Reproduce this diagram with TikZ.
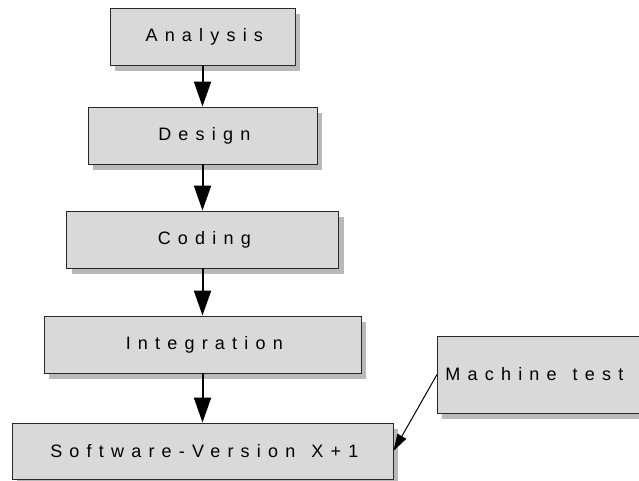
\documentclass[tikz,border=0pt]{standalone}
\usepackage{fontspec}
\setmainfont{Liberation Sans}[LetterSpace=40]
\usetikzlibrary{arrows.meta,shadows}
\definecolor{boxfill}{RGB}{217,217,217}
\definecolor{shadowgray}{RGB}{185,185,185}
\definecolor{edge}{RGB}{40,40,40}
\begin{document}
\begin{tikzpicture}[x=1pt,y=-1pt,
  box/.style={draw=edge, line width=0.9pt, fill=boxfill, rectangle, inner sep=0pt,
    font=\fontsize{18}{21}\selectfont,
    drop shadow={shadow xshift=5pt, shadow yshift=-6pt, fill=shadowgray, opacity=1}},
  flow/.style={line width=2pt, -{Triangle[width=17pt,length=25pt]}},
  thin/.style={line width=1pt, -{Triangle[width=10pt,length=17pt]}}]
\clip (0,0) rectangle (639,481);
\fill[white] (0,0) rectangle (639,481);
\node[box, minimum width=185pt, minimum height=57pt] (A) at (202.5,36.5) {\hspace*{3.6pt}Analysis};
\node[box, minimum width=229pt, minimum height=57pt] (D) at (202.5,135.5) {\hspace*{3.6pt}Design};
\node[box, minimum width=272pt, minimum height=57pt] (C) at (202.5,239.5) {\hspace*{3.6pt}Coding};
\node[box, minimum width=317pt, minimum height=57pt] (I) at (202.5,344.5) {\hspace*{3.6pt}Integration};
\node[box, minimum width=381pt, minimum height=56pt] (S) at (202.5,451) {\hspace*{3.6pt}Software-Version\hspace{16pt}X+1};
\node[box, minimum width=223pt, minimum height=77pt, anchor=west, inner xsep=8pt, text width=207pt, align=left] (M) at (437,374.5) {Machine\hspace{16pt}test};
\draw[flow] (A.south) -- (D.north);
\draw[flow] (D.south) -- (C.north);
\draw[flow] (C.south) -- (I.north);
\draw[flow] (I.south) -- (S.north);
\draw[thin] (M.west) -- (S.east);
\end{tikzpicture}
\end{document}
